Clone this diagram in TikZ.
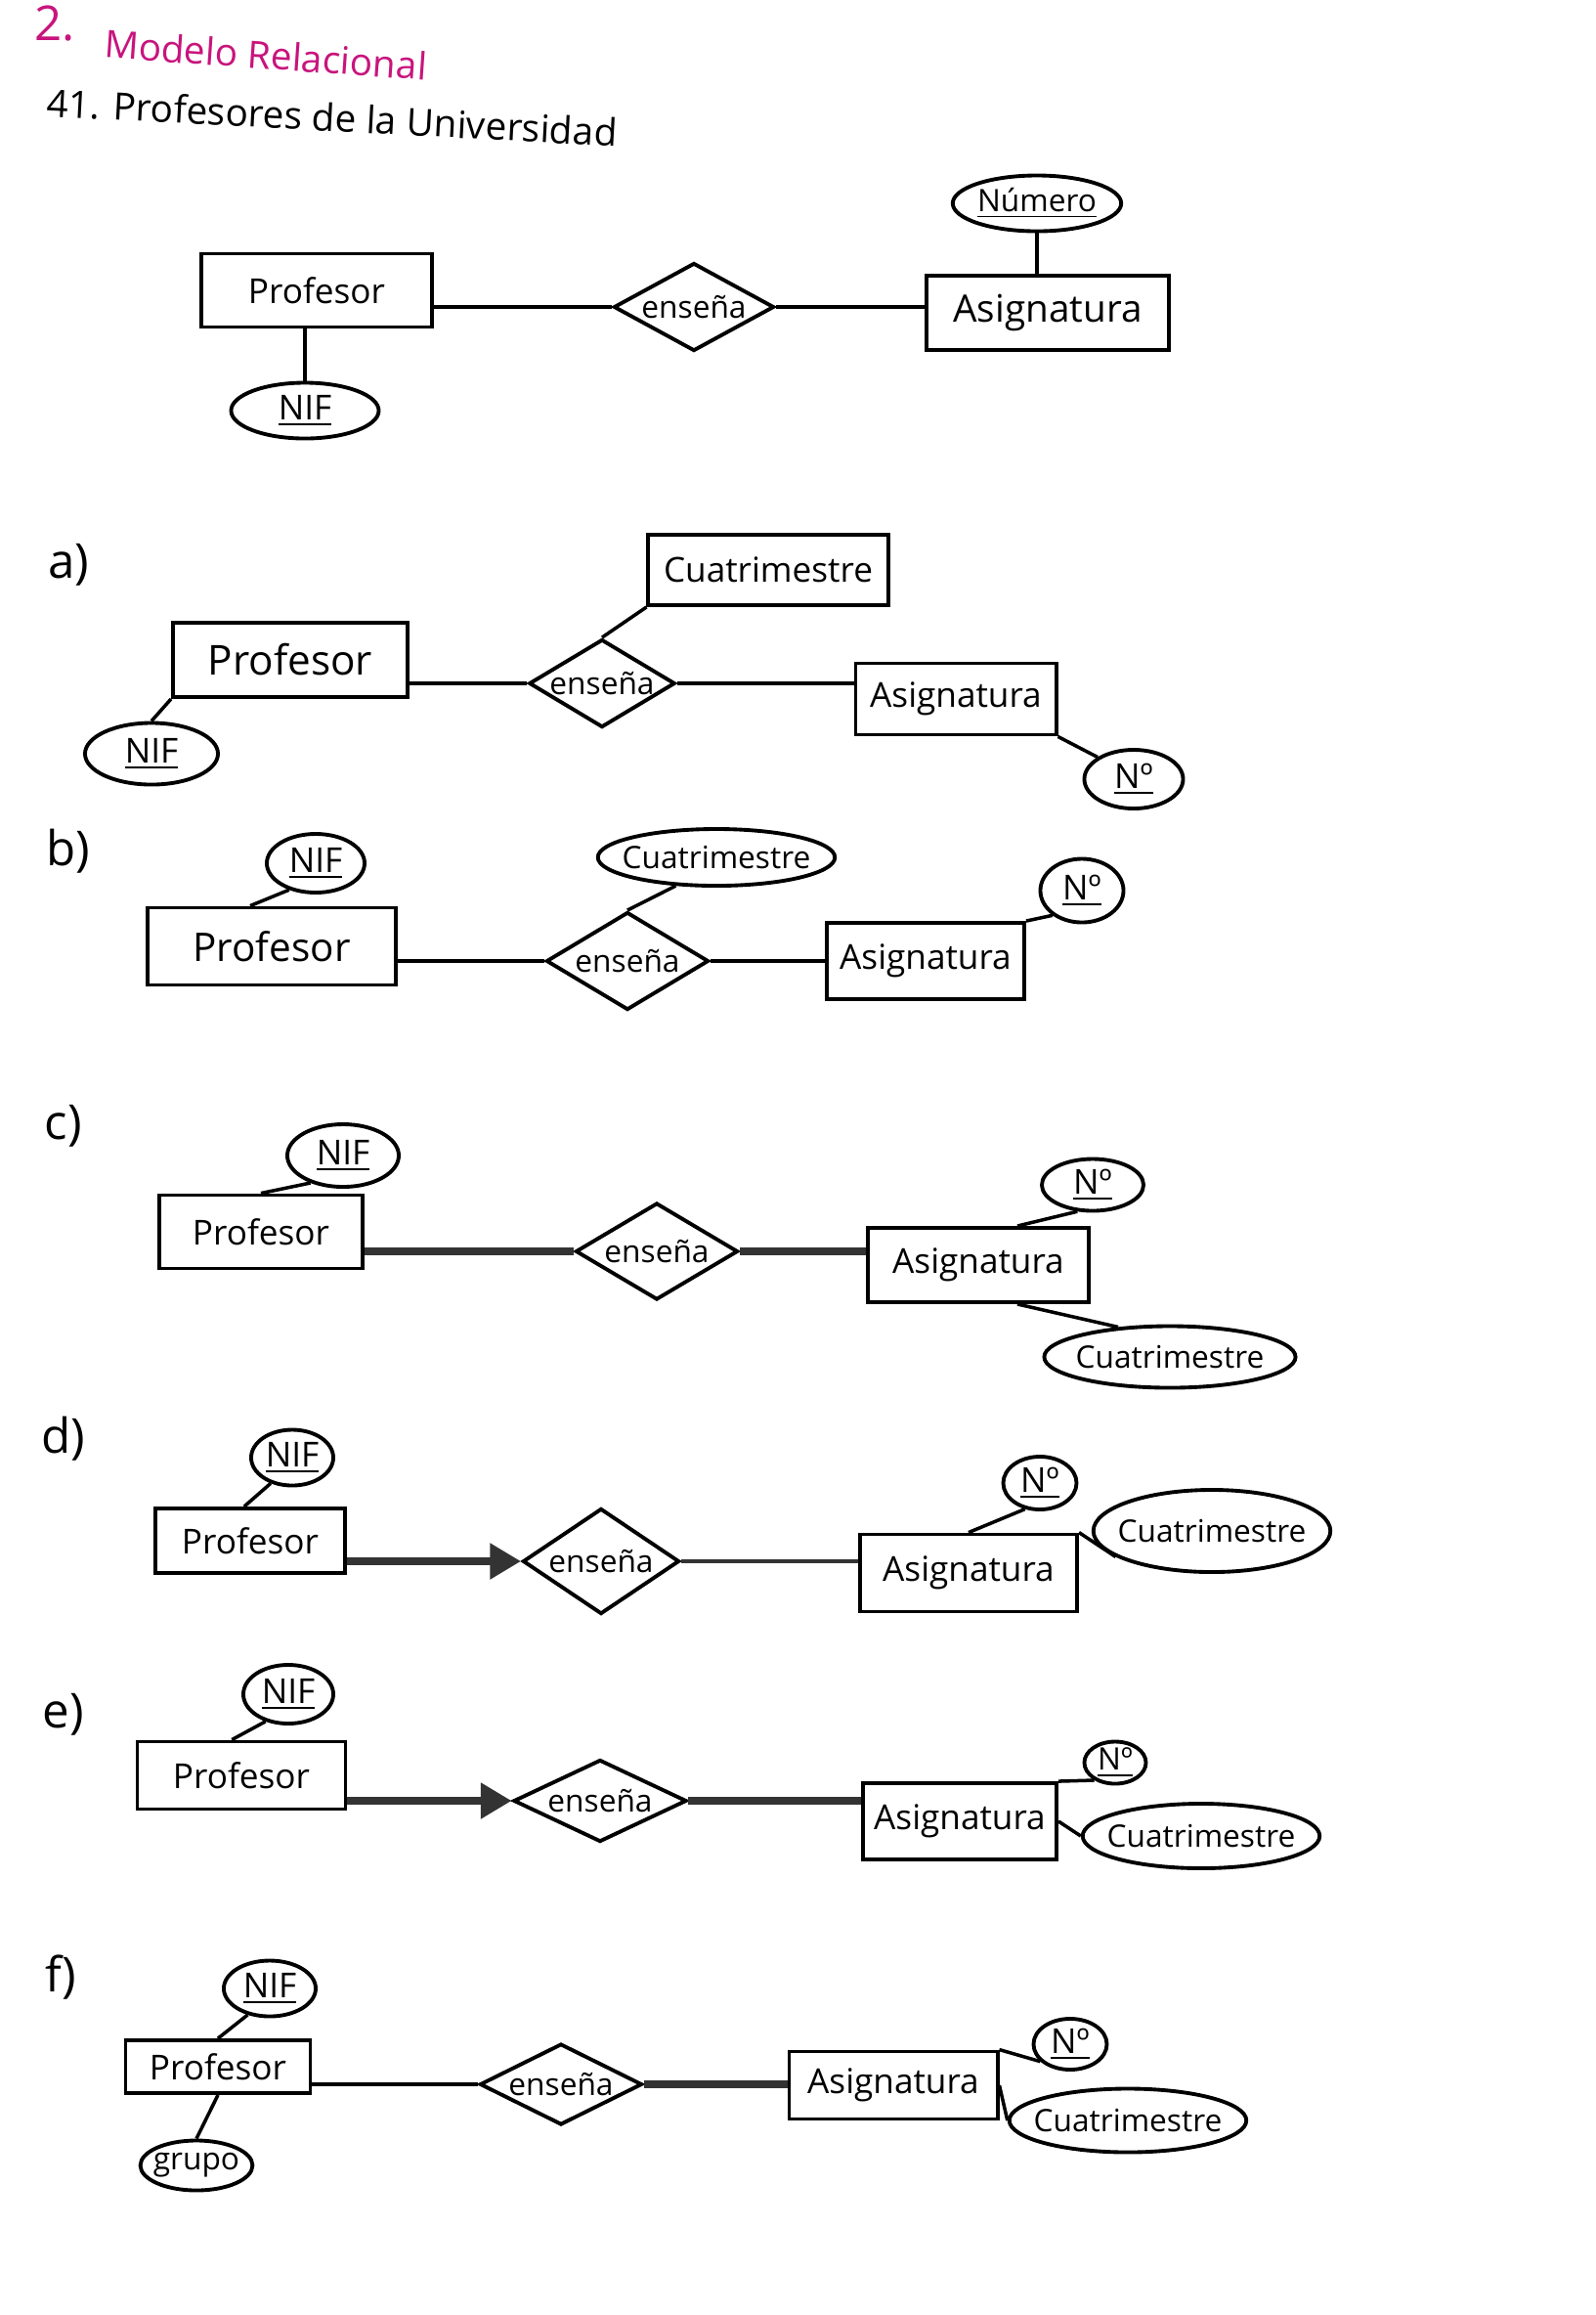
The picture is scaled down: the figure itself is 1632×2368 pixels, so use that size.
\documentclass[tikz,border=0pt]{standalone}
\usepackage{fontspec}
\setmainfont{Open Sans}
\usepackage{tikz}
\usetikzlibrary{shapes.geometric, arrows.meta, positioning}
\definecolor{rosa}{RGB}{200,20,125}
\tikzset{>=latex}
\tikzset{
    entidad/.style={draw, line width=1.1pt, inner sep=2pt, font=\fontsize{10}{12}\selectfont},
    relacion/.style={diamond, draw, line width=1.1pt, inner sep=0pt, aspect=1.8, font=\fontsize{9}{11}\selectfont},
    atributo/.style={ellipse, draw, line width=1.1pt, inner sep=0pt, font=\fontsize{10}{12}\selectfont},
    cuatri/.style={font=\fontsize{9}{11}\selectfont, inner xsep=-3pt},
    enlace/.style={line width=1pt},
    grueso/.style={line width=2.2pt, draw=black!80},
    flecha/.style={line width=2.2pt, draw=black!80, -{Triangle[length=9pt,width=10pt]}},
    apartado/.style={font=\fontsize{14}{16}\selectfont},
}
\begin{document}
\begin{tikzpicture}[x=0.01cm, y=-0.01cm]
    \fill[white] (0,0) rectangle (1632,2368);
    \useasboundingbox (0,0) rectangle (1632,2368);

    % titulo
    \node[rosa, font=\fontsize{14}{16}\selectfont] (dos) at (56,24) {2.};
    \node[rosa, rotate=-4, font=\fontsize{11}{13}\selectfont] (modelo) at (272,56) {Modelo Relacional};
    \node[rotate=-3, font=\fontsize{11}{13}\selectfont, anchor=west] (ejercicio) at (36,104) {41. Profesores de la Universidad};

    % esquema inicial
    \node[entidad, minimum width=2.35cm, minimum height=0.75cm] (prof0) at (324,297) {Profesor};
    \node[relacion, minimum width=1.64cm, minimum height=0.9cm] (ens0) at (710,314) {enseña};
    \node[entidad, minimum width=2.48cm, minimum height=0.76cm, font=\fontsize{11}{13}\selectfont] (asig0) at (1072,320) {Asignatura};
    \node[atributo, minimum width=1.45cm, minimum height=0.57cm, font=\fontsize{9}{11}\selectfont] (num0) at (1061,208) {\underline{Número}};
    \node[atributo, minimum width=1.51cm, minimum height=0.57cm] (nif0) at (312,420) {\underline{NIF}};
    \draw[enlace] (ens0.west -| prof0.east) -- (ens0.west);
    \draw[enlace] (ens0.east) -- (ens0.east -| asig0.west);
    \draw[enlace] (num0.south) -- (num0.south |- asig0.north);
    \draw[enlace] (nif0.north) -- (nif0.north |- prof0.south);

    % a)
    \node[apartado] (la) at (70,578) {a)};
    \node[entidad, minimum width=2.4cm, minimum height=0.76cm, font=\fontsize{12}{14}\selectfont] (prof1) at (297,675) {Profesor};
    \node[relacion, minimum width=1.44cm, minimum height=0.9cm] (ens1) at (616,699) {enseña};
    \node[entidad, minimum width=2.45cm, minimum height=0.72cm] (cuat1) at (786,583) {Cuatrimestre};
    \node[entidad, minimum width=2.05cm, minimum height=0.73cm] (asig1) at (978,715) {Asignatura};
    \node[atributo, minimum width=1.36cm, minimum height=0.63cm] (nif1) at (155,771) {\underline{NIF}};
    \node[atributo, minimum width=1.01cm, minimum height=0.6cm] (num1) at (1160,797) {\underline{Nº}};
    \draw[enlace] (ens1.west -| prof1.east) -- (ens1.west);
    \draw[enlace] (ens1.east) -- (ens1.east -| asig1.west);
    \draw[enlace] (ens1.north) -- (cuat1.south west);
    \draw[enlace] (prof1.south west) -- (nif1.north);
    \draw[enlace] (asig1.south east) -- (num1.north west);

    % b)
    \node[apartado] (lb) at (70,871) {b)};
    \node[entidad, minimum width=2.54cm, minimum height=0.79cm, font=\fontsize{11.5}{13}\selectfont] (prof2) at (278,968) {Profesor};
    \node[relacion, minimum width=1.66cm, minimum height=1cm] (ens2) at (642,983) {enseña};
    \node[entidad, minimum width=2.02cm, minimum height=0.78cm] (asig2) at (947,983) {Asignatura};
    \node[atributo, minimum width=1cm, minimum height=0.6cm] (nif2) at (323,883) {\underline{NIF}};
    \node[atributo, cuatri, minimum width=2.19cm, minimum height=0.58cm] (cuat2) at (733,877) {Cuatrimestre};
    \node[atributo, minimum width=0.85cm, minimum height=0.65cm] (num2) at (1107,911) {\underline{Nº}};
    \draw[enlace] (ens2.west -| prof2.east) -- (ens2.west);
    \draw[enlace] (ens2.east) -- (ens2.east -| asig2.west);
    \draw[enlace] (prof2.118) -- (nif2.225);
    \draw[enlace] (ens2.north) -- (cuat2.215);
    \draw[enlace] (asig2.north east) -- (num2.220);

    % c)
    \node[apartado] (lc) at (65,1152) {c)};
    \node[entidad, minimum width=2.08cm, minimum height=0.75cm] (prof3) at (267,1260) {Profesor};
    \node[relacion, minimum width=1.66cm, minimum height=0.99cm] (ens3) at (672,1280) {enseña};
    \node[entidad, minimum width=2.26cm, minimum height=0.76cm] (asig3) at (1001,1294) {Asignatura};
    \node[atributo, minimum width=1.14cm, minimum height=0.64cm] (nif3) at (351,1182) {\underline{NIF}};
    \node[atributo, minimum width=1.04cm, minimum height=0.53cm] (num3) at (1118,1212) {\underline{Nº}};
    \node[atributo, cuatri, minimum width=2.57cm, minimum height=0.63cm] (cuat3) at (1197,1388) {Cuatrimestre};
    \draw[grueso] (ens3.west -| prof3.east) -- (ens3.west);
    \draw[grueso] (ens3.east) -- (ens3.east -| asig3.west);
    \draw[enlace] (prof3.north) -- (nif3.220);
    \draw[enlace] (asig3.45) -- (num3.240);
    \draw[enlace] (asig3.-45) -- (cuat3.150);

    % d)
    \node[apartado] (ld) at (65,1472) {d)};
    \node[entidad, minimum width=1.94cm, minimum height=0.66cm] (prof4) at (256,1576) {Profesor};
    \node[relacion, minimum width=1.6cm, minimum height=1.08cm] (ens4) at (615,1597) {enseña};
    \node[entidad, minimum width=2.22cm, minimum height=0.79cm] (asig4) at (991,1609) {Asignatura};
    \node[atributo, minimum width=0.84cm, minimum height=0.57cm] (nif4) at (299,1491) {\underline{NIF}};
    \node[atributo, minimum width=0.75cm, minimum height=0.54cm] (num4) at (1064,1517) {\underline{Nº}};
    \node[atributo, cuatri, minimum width=2.42cm, minimum height=0.84cm] (cuat4) at (1240,1566) {Cuatrimestre};
    \draw[flecha] (ens4.west -| prof4.east) -- (ens4.west);
    \draw[enlace, draw=black!80] (ens4.east) -- (ens4.east -| asig4.west);
    \draw[enlace] (prof4.100) -- (nif4.230);
    \draw[enlace] (asig4.north) -- (num4.240);
    \draw[enlace] (asig4.north east) -- (cuat4.195);

    % e)
    \node[apartado] (le) at (65,1754) {e)};
    \node[entidad, minimum width=2.13cm, minimum height=0.69cm] (prof5) at (247,1816) {Profesor};
    \node[relacion, minimum width=1.77cm, minimum height=0.84cm] (ens5) at (614,1842) {enseña};
    \node[entidad, minimum width=1.98cm, minimum height=0.78cm] (asig5) at (982,1863) {Asignatura};
    \node[atributo, minimum width=0.92cm, minimum height=0.6cm] (nif5) at (295,1733) {\underline{NIF}};
    \node[atributo, minimum width=0.63cm, minimum height=0.43cm, font=\fontsize{9}{11}\selectfont] (num5) at (1141,1803) {\underline{Nº}};
    \node[atributo, cuatri, minimum width=2.3cm, minimum height=0.66cm] (cuat5) at (1229,1878) {Cuatrimestre};
    \draw[flecha] (ens5.west -| prof5.east) -- (ens5.west);
    \draw[grueso] (ens5.east) -- (ens5.east -| asig5.west);
    \draw[enlace] (prof5.105) -- (nif5.230);
    \draw[enlace] (asig5.north east) -- (num5.220);
    \draw[enlace] (asig5.east) -- (cuat5.west);

    % f)
    \node[apartado] (lf) at (62,2023) {f)};
    \node[entidad, minimum width=1.89cm, minimum height=0.54cm] (prof6) at (223,2114) {Profesor};
    \node[relacion, minimum width=1.66cm, minimum height=0.68cm] (ens6) at (574,2132) {enseña};
    \node[entidad, minimum width=2.13cm, minimum height=0.69cm] (asig6) at (914,2133) {Asignatura};
    \node[atributo, minimum width=0.94cm, minimum height=0.57cm] (nif6) at (276,2034) {\underline{NIF}};
    \node[atributo, font=\fontsize{9}{11}\selectfont, inner xsep=-1pt, minimum width=0.9cm, minimum height=0.51cm] (grupo6) at (201,2215) {grupo};
    \node[atributo, minimum width=0.75cm, minimum height=0.52cm] (num6) at (1095,2091) {\underline{Nº}};
    \node[atributo, cuatri, minimum width=2.23cm, minimum height=0.65cm] (cuat6) at (1154,2169) {Cuatrimestre};
    \draw[enlace] (ens6.west -| prof6.east) -- (ens6.west);
    \draw[grueso] (ens6.east) -- (ens6.east -| asig6.west);
    \draw[enlace] (prof6.north) -- (nif6.230);
    \draw[enlace] (prof6.south) -- (grupo6.north);
    \draw[enlace] (asig6.north east) -- (num6.210);
    \draw[enlace] (asig6.east) -- (cuat6.west);
\end{tikzpicture}
\end{document}
